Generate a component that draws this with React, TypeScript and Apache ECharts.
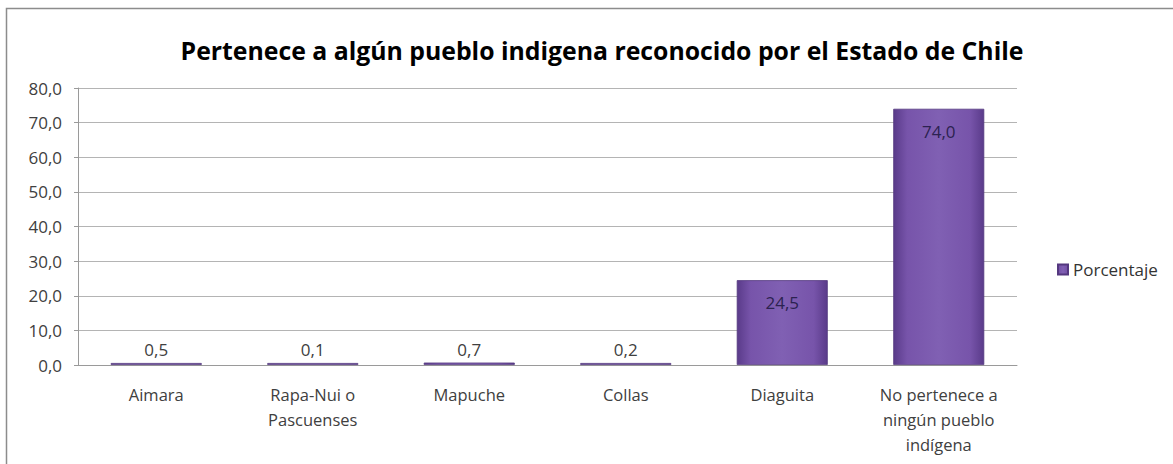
import React, { useEffect, useRef } from "react";
import * as echarts from "echarts";

const title = "Pertenece a algún pueblo indigena reconocido por el Estado de Chile";
const categories = [
  "Aimara",
  "Rapa-Nui o\nPascuenses",
  "Mapuche",
  "Collas",
  "Diaguita",
  "No pertenece a\nningún pueblo\nindígena",
];
const values = [0.5, 0.1, 0.7, 0.2, 24.5, 74.0];
const seriesName = "Porcentaje";
const yTicks = [0, 10, 20, 30, 40, 50, 60, 70, 80];

const fmt = (v: number) => v.toFixed(1).replace(".", ",");
const FONT = "'Open Sans', 'Noto Sans', sans-serif";

export default function App() {
  const ref = useRef<HTMLDivElement>(null);
  useEffect(() => {
    if (!ref.current) return;
    const chart = echarts.init(ref.current, undefined, { renderer: "svg" });
    const barColor = new echarts.graphic.LinearGradient(0, 0, 1, 0, [
      { offset: 0, color: "#5a3b8a" },
      { offset: 0.15, color: "#7754aa" },
      { offset: 0.5, color: "#8060b3" },
      { offset: 0.85, color: "#7754aa" },
      { offset: 1, color: "#5a3b8a" },
    ]);
    chart.setOption({
      animation: false,
      backgroundColor: "#ffffff",
      title: {
        text: title,
        left: 597,
        textAlign: "center",
        top: 32,
        textStyle: { fontFamily: FONT, fontSize: 24.8, fontWeight: "bold", color: "#000" },
      },
      legend: {
        data: [seriesName],
        left: 1052,
        top: 256,
        itemWidth: 10,
        itemHeight: 10,
        itemGap: 5,
        icon: "rect",
        textStyle: { fontFamily: FONT, fontSize: 17, color: "#333" },
      },
      grid: { left: 78, right: 156, top: 88, bottom: 99 },
      xAxis: {
        type: "category",
        data: categories,
        axisLine: { lineStyle: { color: "#9a9a9a" } },
        axisTick: { show: false },
        axisLabel: {
          fontFamily: FONT,
          fontSize: 16.5,
          color: "#404040",
          lineHeight: 25,
          margin: 17,
          interval: 0,
        },
      },
      yAxis: {
        type: "value",
        min: yTicks[0],
        max: yTicks[yTicks.length - 1],
        interval: 10,
        axisLine: { show: true, lineStyle: { color: "#9a9a9a" } },
        axisTick: { show: true, length: 4, lineStyle: { color: "#9a9a9a" } },
        splitLine: { lineStyle: { color: "#b4b4b4" } },
        axisLabel: {
          fontFamily: FONT,
          fontSize: 17,
          color: "#404040",
          margin: 16,
          formatter: (v: number) => fmt(v),
        },
      },
      series: [
        {
          name: seriesName,
          type: "bar",
          barWidth: 91,
          barMinHeight: 2,
          itemStyle: { color: barColor, borderColor: "#54387f", borderWidth: 0.8 },
          data: values.map((v) => ({
            value: v,
            label: v > 10
              ? { position: "insideTop", distance: 14, color: "#2c2250" }
              : { position: "top", distance: 5, color: "#404040" },
          })),
          label: {
            show: true,
            fontFamily: FONT,
            fontSize: 17,
            formatter: (p: any) => fmt(p.value),
          },
        },
      ],
      graphic: [
        {
          type: "rect",
          shape: { x: 6.5, y: 8.5, width: 1180, height: 470 },
          style: { fill: "none", stroke: "#8c8c8c", lineWidth: 1.5 },
          silent: true,
          z: 100,
        },
      ],
    });
    return () => chart.dispose();
  }, []);
  return (
    <div
      ref={ref}
      style={{ position: "absolute", left: 0, top: 0, width: 1173, height: 464 }}
    />
  );
}
